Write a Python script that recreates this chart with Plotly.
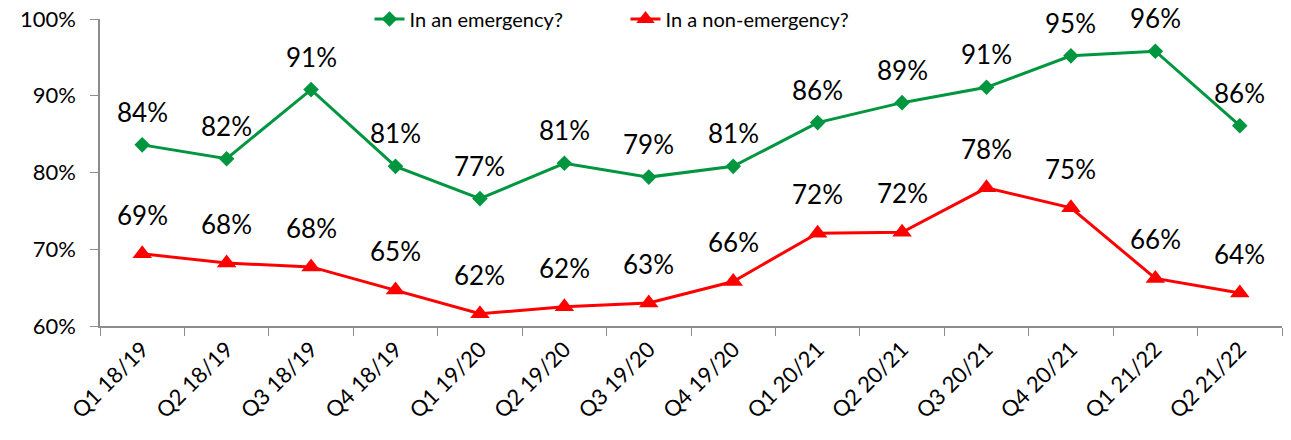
import plotly.graph_objects as go

categories = ["Q1 18/19", "Q2 18/19", "Q3 18/19", "Q4 18/19", "Q1 19/20", "Q2 19/20",
              "Q3 19/20", "Q4 19/20", "Q1 20/21", "Q2 20/21", "Q3 20/21", "Q4 20/21",
              "Q1 21/22", "Q2 21/22"]
emergency = [83.6, 81.8, 90.8, 80.8, 76.6, 81.2, 79.4, 80.8, 86.5, 89.1, 91.1, 95.2, 95.8, 86.1]
non_emergency = [69.4, 68.2, 67.7, 64.7, 61.6, 62.5, 63.0, 65.8, 72.1, 72.2, 78.0, 75.4, 66.2, 64.3]
emergency_labels = ["84%", "82%", "91%", "81%", "77%", "81%", "79%", "81%", "86%", "89%", "91%", "95%", "96%", "86%"]
non_emergency_labels = ["69%", "68%", "68%", "65%", "62%", "62%", "63%", "66%", "72%", "72%", "78%", "75%", "66%", "64%"]

GREEN = "#00963F"
RED = "#FF0000"
FONT = "Lato"

fig = go.Figure()
fig.add_trace(go.Scatter(
    x=categories, y=emergency, mode="lines+markers", name="In an emergency?",
    line=dict(color=GREEN, width=3),
    marker=dict(symbol="diamond", size=12, color=GREEN),
))
fig.add_trace(go.Scatter(
    x=categories, y=non_emergency, mode="lines+markers", name="In a non-emergency?",
    line=dict(color=RED, width=3),
    marker=dict(symbol="triangle-up", size=17, color=RED),
))

annotations = []
for c, v, t in zip(categories, emergency, emergency_labels):
    annotations.append(dict(x=c, y=v, text=t, showarrow=False, yshift=33,
                            font=dict(family=FONT, size=26, color="#000")))
for c, v, t in zip(categories, non_emergency, non_emergency_labels):
    annotations.append(dict(x=c, y=v, text=t, showarrow=False, yshift=39,
                            font=dict(family=FONT, size=26, color="#000")))

fig.update_layout(
    width=1291, height=440,
    margin=dict(l=100, r=9, t=19, b=114, autoexpand=False),
    plot_bgcolor="white", paper_bgcolor="white",
    font=dict(family=FONT, size=18, color="#000"),
    showlegend=True,
    legend=dict(orientation="h", x=0.228, y=1.0, xanchor="left", yanchor="middle",
                font=dict(family=FONT, size=20), bgcolor="rgba(0,0,0,0)",
                entrywidth=211, entrywidthmode="pixels"),
    annotations=annotations,
    xaxis=dict(
        type="category", range=[-0.5, 13.5], showgrid=False,
        showline=True, linecolor="#8c8c8c", linewidth=1.5,
        ticks="outside", tickson="boundaries", ticklen=8, tickcolor="#8c8c8c",
        tickangle=-45, tickfont=dict(family=FONT, size=22),
    ),
    yaxis=dict(
        range=[60, 100], dtick=10, showgrid=False, zeroline=False,
        showline=True, linecolor="#8c8c8c", linewidth=1.5,
        ticks="outside", ticklen=8, tickcolor="#8c8c8c", ticklabelstandoff=10,
        ticksuffix="%", tickfont=dict(family=FONT, size=22),
    ),
)

fig.write_html("out.html", config={"displayModeBar": False},
               post_script="document.body.style.margin='0';")
